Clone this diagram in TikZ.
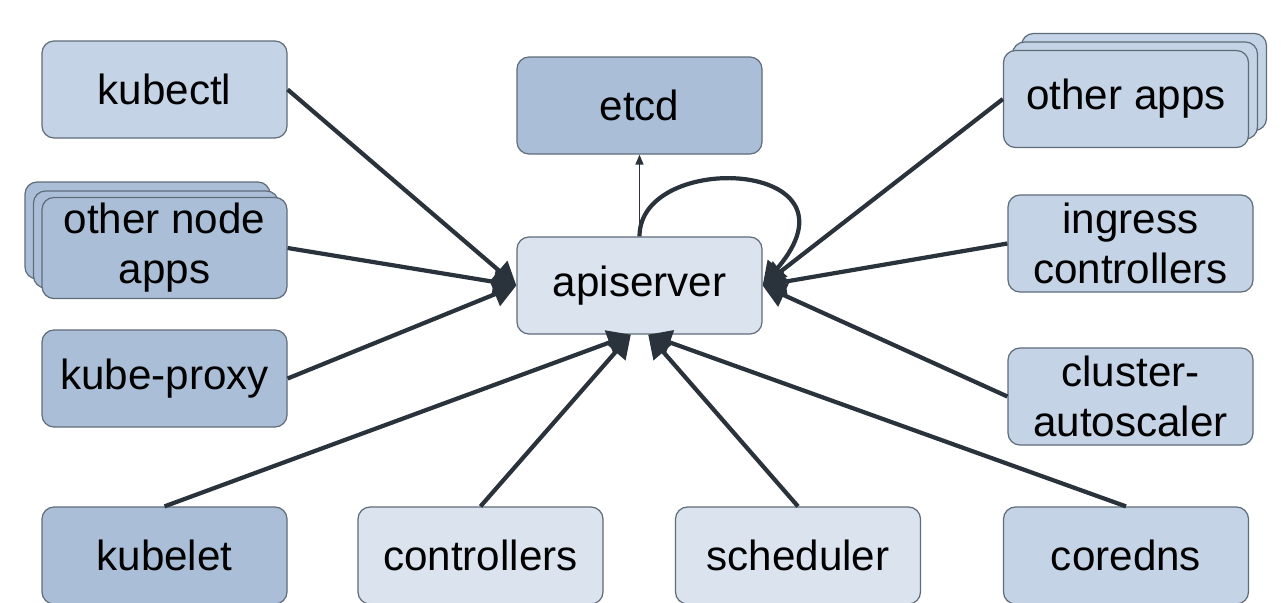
\documentclass[tikz,border=0pt]{standalone}
\usepackage{fontspec}
\setmainfont{Liberation Sans}
\usetikzlibrary{arrows.meta}
\usetikzlibrary{positioning}
\usetikzlibrary{calc}
\definecolor{boxlight}{RGB}{218,227,238}
\definecolor{boxmid}{RGB}{196,211,229}
\definecolor{boxdark}{RGB}{170,191,215}
\definecolor{boxline}{RGB}{95,108,122}
\definecolor{arrowdark}{RGB}{42,50,60}

\begin{document}
\begin{tikzpicture}
		\tikzset{box/.style = {shape=rectangle,rounded corners=0.24cm,draw=boxline,line width=0.7pt,minimum width=4.9cm,minimum height=1.94cm,align=center,font=\fontsize{24}{28.5}\selectfont}}
		\tikzset{edge/.style = {-{Triangle[length=0.46cm,width=0.5cm]},line width=2.4pt,draw=arrowdark}}
		\tikzset{thin edge/.style = {-{Triangle[length=0.2cm,width=0.16cm]},line width=0.8pt,draw=arrowdark}}
		\useasboundingbox[fill=white] (0,0) rectangle (25.62,-12.06);
		% vertices
		\node[box, fill = boxlight] (api) at (12.79,-5.71) {apiserver};
		\node[box, fill = boxdark] (etcd) at (12.79,-2.11) {etcd};
		
		\node[box, fill = boxmid] (kubectl) at (3.29,-1.79) {kubectl};
		\node[box, fill = boxdark] (nodeapps3) at (2.95,-4.61) {};
		\node[box, fill = boxdark] (nodeapps2) at (3.12,-4.79) {};
		\node[box, fill = boxdark] (nodeapps) at (3.29,-4.96) {other node\\apps};
		\node[box, fill = boxdark] (proxy) at (3.29,-7.57) {kube-proxy};
		
		\node[box, fill = boxmid] (apps3) at (22.88,-1.64) {};
		\node[box, fill = boxmid] (apps2) at (22.70,-1.81) {};
		\node[box, fill = boxmid] (apps) at (22.52,-1.98) {other apps};
		\node[box, fill = boxmid] (ingress) at (22.61,-4.87) {ingress\\controllers};
		\node[box, fill = boxmid] (scaler) at (22.61,-7.93) {cluster-\\autoscaler};
		
		\node[box, fill = boxdark] (kubelet) at (3.29,-11.11) {kubelet};
		\node[box, fill = boxlight] (ctrl) at (9.61,-11.11) {controllers};
		\node[box, fill = boxlight] (sched) at (15.96,-11.11) {scheduler};
		\node[box, fill = boxmid] (dns) at (22.52,-11.11) {coredns};
		
		%edges
		\draw[thin edge] (api.north) to (etcd.south);
		
		\draw[edge] (api.north) .. controls +(0,1.74) and +(2.16,2.52) .. (api.east);
		
		\draw[edge] (kubectl.east) to (api.west);
		\draw[edge] (nodeapps.east) to (api.west);
		\draw[edge] (proxy.east) to (api.west);
		
		\draw[edge] (apps.west) to (api.east);
		\draw[edge] (ingress.west) to (api.east);
		\draw[edge] (scaler.west) to (api.east);
		
		\draw[edge] (kubelet.north) to (api.-100);
		\draw[edge] (ctrl.north) to (api.-100);
		\draw[edge] (sched.north) to (api.-80);
		\draw[edge] (dns.north) to (api.-80);
		
		\end{tikzpicture}
\end{document}
